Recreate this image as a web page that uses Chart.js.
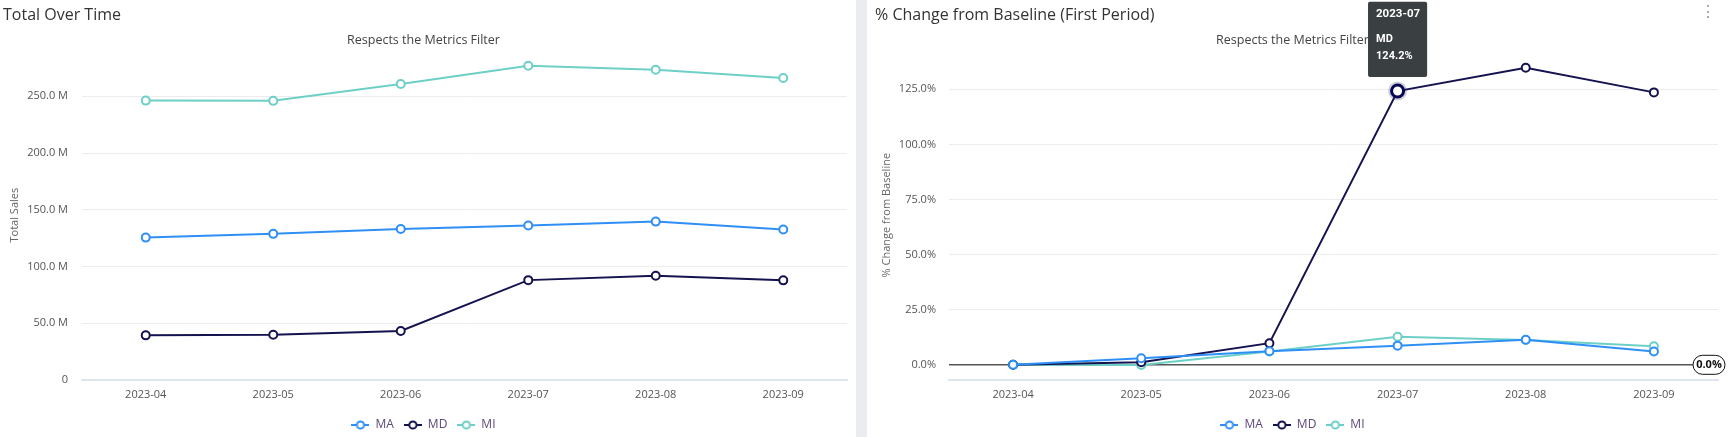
<!DOCTYPE html>
<html>
<head>
<meta charset="utf-8">
<script src="https://cdn.jsdelivr.net/npm/chart.js@4.4.0/dist/chart.umd.min.js"></script>
<style>
  body { margin: 0; background: #fff; font-family: 'Open Sans', sans-serif; }
  .panel { position: absolute; top: 0; height: 437px; background: #fff; overflow: hidden; }
  .panel h2 { position: absolute; top: 1px; margin: 0; font-weight: 400; font-size: 16px; color: #333; line-height: 26px; z-index: 2; }
  .gap { position: absolute; top: 0; left: 856px; width: 11px; height: 437px; background: #ebecef; }
  .menu { position: absolute; left: 1700px; top: 0; font-size: 16px; color: #999; line-height: 22px; }
</style>
</head>
<body>
<div class="panel" style="left:0;width:856px">
  <h2 style="left:3px">Total Over Time</h2>
  <canvas id="salesChart" width="856" height="437"></canvas>
</div>
<div class="gap"></div>
<div class="panel" style="left:867px;width:861px">
  <h2 style="left:8px">% Change from Baseline (First Period)</h2>
  <canvas id="changeChart" width="861" height="437"></canvas>
</div>
<div class="menu">&#8942;</div>
<script>
// data
var periods = ['2023-04', '2023-05', '2023-06', '2023-07', '2023-08', '2023-09'];
var states = ['MA', 'MD', 'MI'];
var salesMA = [125.4, 128.7, 133.0, 136.0, 139.5, 132.5];   // millions
var salesMD = [39.2, 39.8, 43.0, 87.9, 91.8, 87.7];
var salesMI = [246.2, 246.0, 260.8, 277.0, 273.4, 266.1];
var salesTicks = [0, 50, 100, 150, 200, 250];
var changeMA = [0, 3.0, 6.2, 8.7, 11.4, 6.0];   // percent
var changeMD = [0, 1.2, 9.8, 124.2, 134.8, 123.6];
var changeMI = [0, -0.1, 6.0, 12.7, 11.3, 8.4];
var changeTicks = [0, 25, 50, 75, 100, 125];
var colors = ['#2f8ff7', '#15134f', '#6dd0c7'];

Chart.defaults.font.family = "'Open Sans', sans-serif";
Chart.defaults.animation = false;

function legendIcon(color) {
    var c = document.createElement('canvas');
    c.width = 18; c.height = 10;
    var g = c.getContext('2d');
    g.strokeStyle = color;
    g.lineWidth = 2;
    g.beginPath(); g.moveTo(0, 5); g.lineTo(18, 5); g.stroke();
    g.beginPath(); g.arc(9, 5, 3.6, 0, Math.PI * 2);
    g.fillStyle = '#fff'; g.fill(); g.stroke();
    return c;
}
var icons = colors.map(legendIcon);

function makeDatasets(series) {
    return series.map(function (values, i) {
        return {
            label: states[i],
            data: values,
            borderColor: colors[i],
            backgroundColor: '#fff',
            borderWidth: 2,
            pointRadius: 4,
            pointBorderWidth: 2,
            pointBackgroundColor: '#fff',
            pointHoverRadius: 6,
            pointHoverBorderWidth: 3,
            pointHoverBackgroundColor: '#fff',
            tension: 0
        };
    });
}

function baseOptions(yTitle, tickList, axisWidth, titleTop, tickPad) {
    return {
        responsive: false,
        events: [],
        layout: { padding: { left: 0, right: 9, bottom: -4 } },
        plugins: {
            title: {
                display: true,
                text: 'Respects the Metrics Filter',
                color: '#444',
                font: { size: 12.5, weight: 'normal' },
                padding: { top: 32.5, bottom: 3 }
            },
            legend: {
                position: 'bottom',
                labels: {
                    usePointStyle: true,
                    pointStyleWidth: 18,
                    color: '#5b4a7a',
                    font: { size: 12 },
                    padding: 10,
                    generateLabels: function (chart) {
                        var items = Chart.defaults.plugins.legend.labels.generateLabels(chart);
                        items.forEach(function (it, i) { it.pointStyle = icons[i]; });
                        return items;
                    }
                }
            },
            tooltip: { enabled: false }
        },
        scales: {
            x: {
                offset: true,
                grid: { display: false, drawTicks: false },
                border: { color: '#dfe4ee', width: 2 },
                ticks: { color: '#555', font: { size: 11 }, padding: 8 }
            },
            y: {
                grid: { color: '#ececec', drawTicks: false },
                border: { display: false },
                ticks: { color: '#555', font: { size: 11 }, padding: tickPad },
                title: { display: true, text: yTitle, color: '#666', font: { size: 11 }, padding: { top: titleTop, bottom: 0 } },
                afterBuildTicks: function (scale) {
                    scale.ticks = tickList.map(function (v) { return { value: v }; });
                },
                afterFit: function (scale) { scale.width = axisWidth; }
            }
        }
    };
}

var salesOpts = baseOptions('Total Sales', salesTicks, 82, 8.4, 14);
salesOpts.scales.y.min = 0;
salesOpts.scales.y.max = 290.4;
salesOpts.scales.y.ticks.callback = function (v) { return v === 0 ? '0' : v.toFixed(1) + ' M'; };

new Chart(document.getElementById('salesChart'), {
    type: 'line',
    data: { labels: periods, datasets: makeDatasets([salesMA, salesMD, salesMI]) },
    options: salesOpts
});

// zero baseline + its label, and halo behind the hovered point
var baselinePlugin = {
    id: 'baseline',
    beforeDatasetsDraw: function (chart) {
        var ctx = chart.ctx, y = chart.scales.y.getPixelForValue(0), area = chart.chartArea;
        ctx.save();
        ctx.strokeStyle = '#555';
        ctx.lineWidth = 1.5;
        ctx.beginPath(); ctx.moveTo(area.left, y); ctx.lineTo(area.right, y); ctx.stroke();
        chart.getActiveElements().forEach(function (a) {
            ctx.fillStyle = 'rgba(21,19,79,0.2)';
            ctx.beginPath(); ctx.arc(a.element.x, a.element.y, 9.5, 0, Math.PI * 2); ctx.fill();
        });
        ctx.restore();
    },
    afterDraw: function (chart) {
        var ctx = chart.ctx, y = chart.scales.y.getPixelForValue(0);
        var w = 32, h = 19, x = chart.width - w - 3;
        ctx.save();
        ctx.beginPath();
        ctx.roundRect(x, y - h / 2, w, h, 9.5);
        ctx.fillStyle = '#fff'; ctx.fill();
        ctx.strokeStyle = '#111'; ctx.lineWidth = 1; ctx.stroke();
        ctx.fillStyle = '#111';
        ctx.font = "bold 11px 'Open Sans', sans-serif";
        ctx.textAlign = 'center'; ctx.textBaseline = 'middle';
        ctx.fillText('0.0%', x + w / 2, y + 0.5);
        ctx.restore();
    }
};

Chart.Tooltip.positioners.above = function (items) {
    if (!items.length) return false;
    return { x: items[0].element.x, y: items[0].element.y - 14, xAlign: 'center', yAlign: 'bottom' };
};

var changeOpts = baseOptions('% Change from Baseline', changeTicks, 82, 13.4, 13);
changeOpts.layout.padding.right = 10;
changeOpts.scales.y.min = -6.8;
changeOpts.scales.y.max = 142.6;
changeOpts.scales.y.ticks.callback = function (v) { return v.toFixed(1) + '%'; };
changeOpts.scales.y.grid.color = function (c) { return c.tick && c.tick.value === 0 ? 'rgba(0,0,0,0)' : '#ececec'; };
changeOpts.plugins.tooltip = {
    enabled: true,
    position: 'above',
    backgroundColor: '#3a3f42',
    cornerRadius: 2,
    caretSize: 0,
    caretPadding: 0,
    displayColors: false,
    padding: { top: 5, bottom: 14, left: 8, right: 7 },
    titleFont: { family: 'Roboto', size: 11.5, weight: 'bold' },
    titleMarginBottom: 12,
    bodyFont: { family: 'Roboto', size: 11, weight: 'bold' },
    bodySpacing: 4,
    callbacks: {
        title: function (items) { return items[0].label; },
        label: function (item) { return [item.dataset.label, item.parsed.y.toFixed(1) + '%']; }
    }
};

var changeChart = new Chart(document.getElementById('changeChart'), {
    type: 'line',
    data: { labels: periods, datasets: makeDatasets([changeMA, changeMD, changeMI]) },
    options: changeOpts,
    plugins: [baselinePlugin]
});

var active = [{ datasetIndex: 1, index: 3 }];
changeChart.setActiveElements(active);
var el = changeChart.getDatasetMeta(1).data[3];
changeChart.tooltip.setActiveElements(active, { x: el.x, y: el.y });
changeChart.update();
</script>
</body>
</html>
